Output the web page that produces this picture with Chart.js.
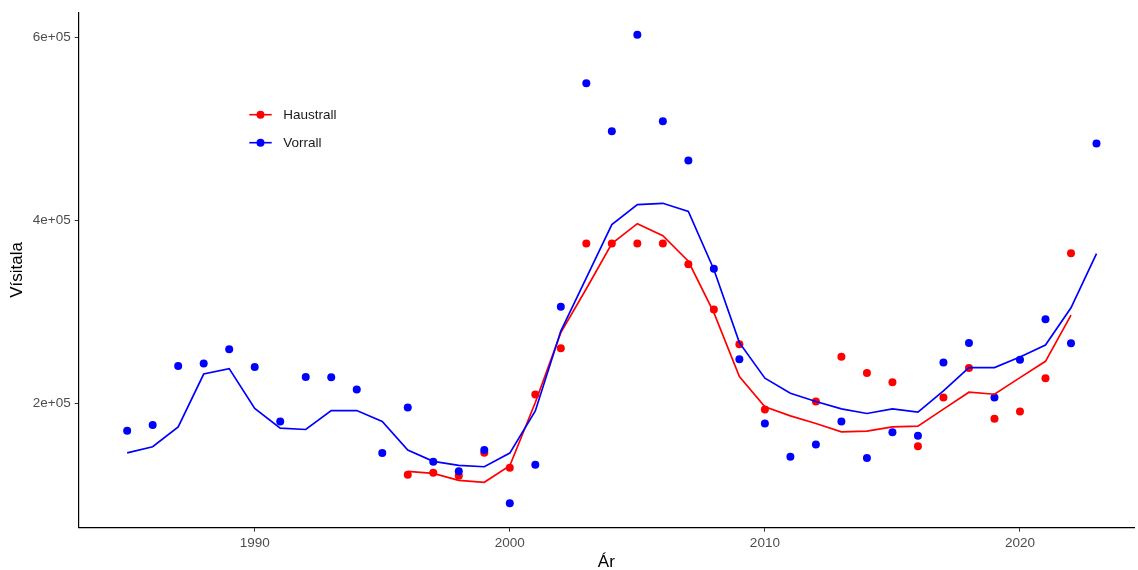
<!DOCTYPE html>
<html>
<head>
<meta charset="utf-8">
<title>Vísitala eftir árum</title>
<script src="https://cdn.jsdelivr.net/npm/chart.js@4/dist/chart.umd.min.js"></script>
<style>
  html, body { margin: 0; padding: 0; background: #ffffff; }
  #wrap { width: 1138px; height: 570px; position: relative; }
  canvas { display: block; }
</style>
</head>
<body>
<div id="wrap"><canvas id="chart" width="1138" height="570"></canvas></div>
<script>
// Years and index values per survey
const vorrallYears = [1985, 1986, 1987, 1988, 1989, 1990, 1991, 1992, 1993, 1994,
  1995, 1996, 1997, 1998, 1999, 2000, 2001, 2002, 2003, 2004,
  2005, 2006, 2007, 2008, 2009, 2010, 2011, 2012, 2013, 2014,
  2015, 2016, 2017, 2018, 2019, 2020, 2021, 2022, 2023];
const vorrallPoints = [169800, 176300, 240700, 243300, 258900, 239600, 180100, 228700, 228300, 214900,
  145500, 195300, 136000, 125600, 148800, 90700, 132800, 305400, 549600, 497200,
  602600, 508100, 465200, 346800, 248000, 177900, 141500, 155000, 180100, 140100,
  168400, 164400, 244400, 265700, 206200, 247600, 291600, 265400, 483700];
const vorrallSmooth = [145800, 152400, 174200, 231900, 237800, 194200, 172800, 171300, 192000, 192000,
  180100, 148800, 136500, 132100, 130600, 145500, 191600, 278800, 337000, 395100,
  416900, 418400, 409600, 346100, 266200, 227300, 210900, 201900, 193800, 188800,
  193800, 190200, 213400, 238900, 238900, 250500, 263600, 304300, 363500];

const haustrallYears = [1996, 1997, 1998, 1999, 2000, 2001, 2002, 2003, 2004, 2005,
  2006, 2007, 2008, 2009, 2010, 2011, 2012, 2013, 2014, 2015,
  2016, 2017, 2018, 2019, 2020, 2021, 2022];
const haustrallPoints = [121900, 124000, 120800, 145800, 129500, 209500, 260000, 374400, 374400, 374400,
  374400, 351900, 302500, 264300, 193100, null, 201900, 250900, 233000, 222900,
  153100, 206200, 238500, 182900, 191000, 227300, 363800];
const haustrallSmooth = [125600, 123400, 115800, 113600, 131700, 200800, 277100, 325000, 374400, 396200,
  383100, 355100, 298900, 229100, 196000, 186200, 177900, 168700, 169500, 174200,
  174900, 193500, 212000, 209800, 228000, 245800, 296300];

const xTicks = [1990, 2000, 2010, 2020];
const yTicks = [200000, 400000, 600000];

const seriesNames = ['Haustrall', 'Vorrall'];
const seriesColors = ['#ff0000', '#0000ff'];

function toXY(xs, ys) {
  const out = [];
  xs.forEach((x, i) => { if (ys[i] !== null) out.push({ x: x, y: ys[i] }); });
  return out;
}

// R-style scientific labels, e.g. 2e+05
function sci(v) {
  const [m, e] = v.toExponential().split('e');
  const n = parseInt(e, 10);
  const sign = n < 0 ? '-' : '+';
  return m + 'e' + sign + String(Math.abs(n)).padStart(2, '0');
}

const FONT = '"Liberation Sans", Arial, Helvetica, sans-serif';

// Legend drawn inside the panel: line with a dot, then the label
const insideLegend = {
  id: 'insideLegend',
  afterDraw(chart) {
    const { ctx, chartArea } = chart;
    const x0 = chartArea.left + 170.6;
    const y0 = chartArea.top + 102.6;
    const rowGap = 28;
    ctx.save();
    seriesNames.forEach((name, i) => {
      const y = y0 + i * rowGap;
      ctx.strokeStyle = seriesColors[i];
      ctx.lineWidth = 1.6;
      ctx.beginPath();
      ctx.moveTo(x0, y);
      ctx.lineTo(x0 + 22.4, y);
      ctx.stroke();
      ctx.fillStyle = seriesColors[i];
      ctx.beginPath();
      ctx.arc(x0 + 11.2, y, 4, 0, Math.PI * 2);
      ctx.fill();
      ctx.fillStyle = '#1a1a1a';
      ctx.font = '13.5px ' + FONT;
      ctx.textAlign = 'left';
      ctx.textBaseline = 'middle';
      ctx.fillText(name, x0 + 34, y + 0.5);
    });
    ctx.restore();
  }
};

const pointStyle = (color, data, order, label) => ({
  label: label,
  data: data,
  showLine: false,
  pointRadius: 4,
  pointHoverRadius: 4,
  pointBackgroundColor: color,
  pointBorderWidth: 0,
  borderColor: color,
  order: order
});
const lineStyle = (color, data, order, label) => ({
  label: label,
  data: data,
  showLine: true,
  pointRadius: 0,
  pointHoverRadius: 0,
  borderColor: color,
  borderWidth: 1.7,
  tension: 0,
  fill: false,
  order: order
});

new Chart(document.getElementById('chart'), {
  type: 'scatter',
  data: {
    datasets: [
      lineStyle(seriesColors[1], toXY(vorrallYears, vorrallSmooth), 0, 'Vorrall'),
      lineStyle(seriesColors[0], toXY(haustrallYears, haustrallSmooth), 1, 'Haustrall'),
      pointStyle(seriesColors[1], toXY(vorrallYears, vorrallPoints), 2, 'Vorrall'),
      pointStyle(seriesColors[0], toXY(haustrallYears, haustrallPoints), 3, 'Haustrall')
    ]
  },
  options: {
    responsive: false,
    animation: false,
    devicePixelRatio: 1,
    layout: { padding: { top: 11.7, right: 0, bottom: 0, left: 0 } },
    plugins: {
      legend: { display: false },
      tooltip: { enabled: false }
    },
    scales: {
      x: {
        type: 'linear',
        min: 1983.1,
        max: 2024.47,
        afterBuildTicks(scale) { scale.ticks = xTicks.map(v => ({ value: v })); },
        afterFit(scale) { scale.height = 42.3; },
        grid: { display: true, drawOnChartArea: false, drawTicks: true, tickLength: 4, tickColor: '#333333', tickWidth: 1 },
        border: { display: true, color: '#000000', width: 1.2 },
        ticks: {
          color: '#4d4d4d',
          font: { family: FONT, size: 13.5 },
          padding: 3,
          maxRotation: 0,
          callback: v => String(v)
        },
        title: {
          display: true,
          text: 'Ár',
          color: '#000000',
          font: { family: FONT, size: 17, lineHeight: 0.8 },
          padding: { top: 0, bottom: 0.8 }
        }
      },
      y: {
        type: 'linear',
        min: 64000,
        max: 627300,
        afterBuildTicks(scale) { scale.ticks = yTicks.map(v => ({ value: v })); },
        afterFit(scale) { scale.width = 78.7; },
        grid: { display: true, drawOnChartArea: false, drawTicks: true, tickLength: 4, tickColor: '#333333', tickWidth: 1 },
        border: { display: true, color: '#000000', width: 1.2 },
        ticks: {
          color: '#4d4d4d',
          font: { family: FONT, size: 13.5 },
          padding: 4,
          callback: v => sci(v)
        },
        title: {
          display: true,
          text: 'Vísitala',
          color: '#000000',
          font: { family: FONT, size: 17, lineHeight: 1.2 },
          padding: { top: 7, bottom: 0 }
        }
      }
    }
  },
  plugins: [insideLegend]
});
</script>
</body>
</html>
